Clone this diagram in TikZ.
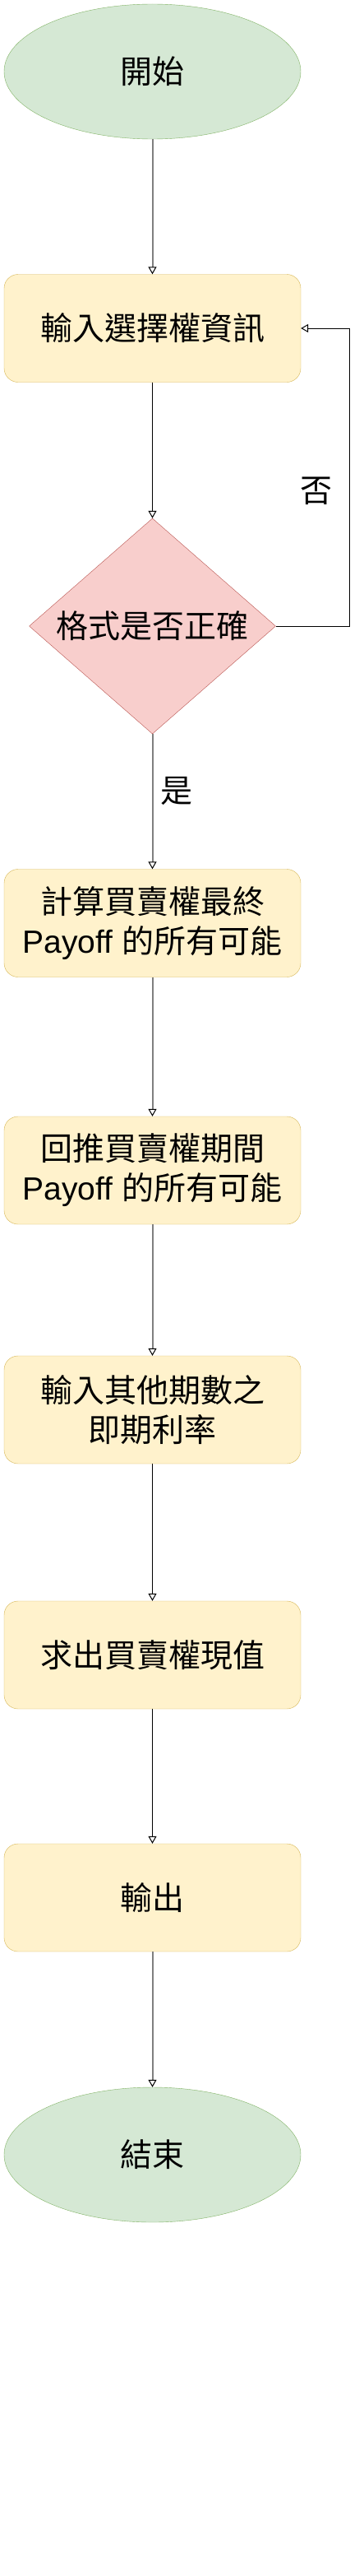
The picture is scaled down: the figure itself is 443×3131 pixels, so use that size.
\documentclass[tikz,border=0pt]{standalone}
\usepackage{fontspec}
\setmainfont{Liberation Sans}
\newfontfamily\cjk{Noto Sans CJK TC}
\usetikzlibrary{shapes.geometric, arrows.meta}

\definecolor{termfill}{HTML}{D5E8D4}
\definecolor{termline}{HTML}{82B366}
\definecolor{stepfill}{HTML}{FFF2CC}
\definecolor{stepline}{HTML}{D6B656}
\definecolor{askfill}{HTML}{F8CECC}
\definecolor{askline}{HTML}{B85450}
\definecolor{flowgray}{HTML}{808080}

\tikzset{
    terminal/.style={ellipse, draw=termline, fill=termfill, minimum width=361pt, minimum height=164pt, inner sep=0pt},
    stepbox/.style={rectangle, rounded corners=17pt, draw=stepline, fill=stepfill, minimum width=361pt, minimum height=131pt, align=center, inner sep=0pt},
    askbox/.style={diamond, draw=askline, fill=askfill, minimum width=300pt, minimum height=262pt, inner sep=0pt},
    grayflow/.style={draw=flowgray, line width=2pt, -{Triangle[open, length=9pt, width=10pt, line width=1pt, color=black]}},
    blackflow/.style={draw=black, line width=1pt, -{Triangle[open, length=9pt, width=10pt]}},
    txt/.style={font=\cjk\fontsize{39}{48}\selectfont}
}

\begin{document}
\begin{tikzpicture}[x=1pt, y=-1pt]

    \useasboundingbox (0,0) rectangle (443,3131);

    % Start and end
    \node[terminal, txt] (start) at (185.5, 87) {開始};
    \node[terminal, txt] (finish) at (185.5, 2619) {結束};

    % Steps
    \node[stepbox, txt] (input) at (185.5, 399) {輸入選擇權資訊};
    \node[askbox, txt] (check) at (185.5, 761) {\makebox[0pt]{格式是否正確}};
    \node[stepbox, txt] (final) at (185.5, 1122) {計算買賣權最終\\{\rmfamily Payoff }的所有可能};
    \node[stepbox, txt] (backward) at (185.5, 1422.5) {回推買賣權期間\\{\rmfamily Payoff }的所有可能};
    \node[stepbox, txt] (rates) at (185.5, 1713.5) {輸入其他期數之\\即期利率};
    \node[stepbox, txt] (value) at (185.5, 2011.5) {求出買賣權現值};
    \node[stepbox, txt] (output) at (185.5, 2306.5) {輸出};

    % Arrows
    \draw[grayflow] (start) -- (input);
    \draw[blackflow] (input) -- (check);
    \draw[grayflow] (check) -- (final);
    \draw[grayflow] (final) -- (backward);
    \draw[grayflow] (backward) -- (rates);
    \draw[blackflow] (rates) -- (value);
    \draw[blackflow] (value) -- (output);
    \draw[grayflow] (output) -- (finish);

    % Loop back when the format is wrong
    \coordinate (turn) at (425.7, 761);
    \draw[blackflow] (check.east) -- (turn) |- (input.east);

    \node[txt] (no) at (385, 597) {否};
    \node[txt] (yes) at (215, 961) {是};

\end{tikzpicture}
\end{document}
